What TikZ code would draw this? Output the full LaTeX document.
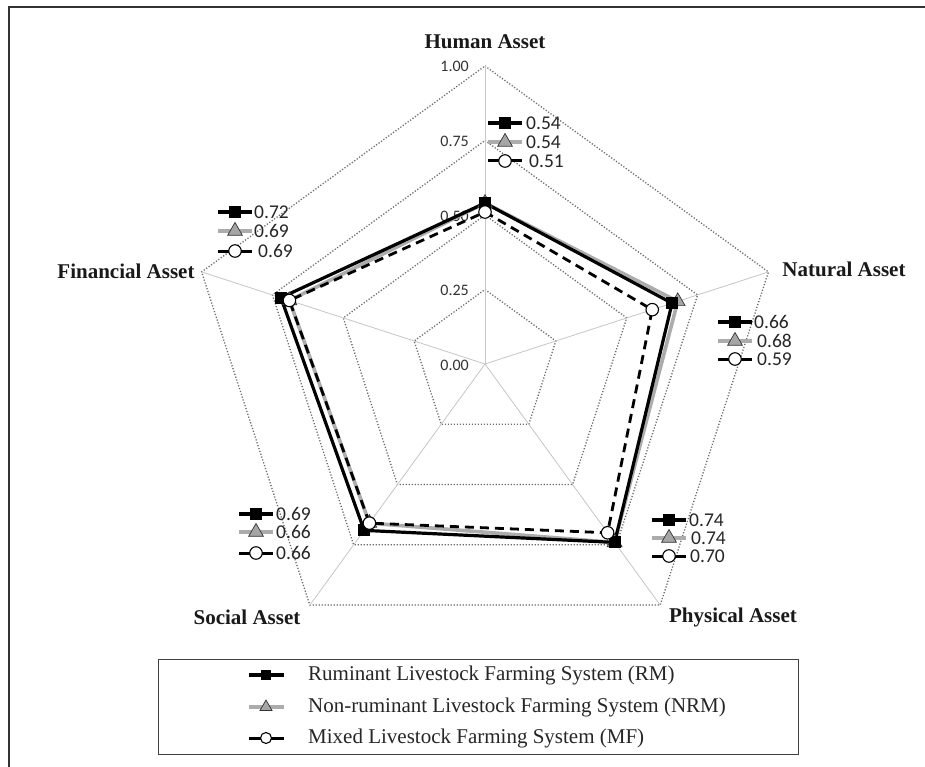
\documentclass[tikz,border=0pt]{standalone}
\usepackage{fontspec}
\setmainfont{Liberation Serif}
\newfontfamily\numfont{Carlito}
\usetikzlibrary{shapes.geometric}
\tikzset{
  ring/.style={draw=black!58, line width=1.3pt, dash pattern=on 1.2pt off 1.8pt},
  spoke/.style={draw=gray!45, line width=0.8pt},
  rmline/.style={draw=black, line width=3.2pt},
  nrmline/.style={draw=gray!65, line width=3.6pt},
  mfline/.style={draw=black, line width=2.8pt, dash pattern=on 9pt off 6pt},
  mfrowline/.style={draw=black, line width=3pt},
  rmmark/.style={rectangle, fill=black, minimum size=12pt, inner sep=0pt},
  nrmmark/.style={regular polygon, regular polygon sides=3, fill=gray!70, draw=gray!40!black, line width=0.7pt, minimum size=17pt, inner sep=0pt},
  mfmark/.style={circle, fill=white, draw=black, line width=1.1pt, minimum size=12.5pt, inner sep=0pt},
  mfrowmark/.style={mfmark},
  axtitle/.style={font=\fontsize{21}{23}\selectfont\bfseries, text=black!90, inner sep=0pt},
  ticklab/.style={font=\numfont\fontsize{16}{18}\selectfont, text=black!80, anchor=east, inner sep=0pt},
  vallab/.style={font=\numfont\fontsize{19.5}{21}\selectfont, text=black!85, anchor=west, inner sep=0pt},
  legtext/.style={font=\fontsize{21}{23}\selectfont, text=black!85, anchor=west, inner sep=0pt},
}
\newcommand\lrow[6]{%
  \coordinate (#1a) at (#2-17,#3);
  \coordinate (#1b) at (#2+17,#3);
  \draw[#4line] (#1a) -- (#1b);
  \node[#4mark] (#1m) at (#2,#3) {};
  \node[vallab] (#1t) at (#6,#3) {#5};
}
\begin{document}
\begin{tikzpicture}[x=1pt,y=-1pt]
\useasboundingbox (0,0) rectangle (925,767);
\fill[white] (0,0) rectangle (925,767);
% frame
\draw[line width=2pt, black!80] (9,767) -- (9,7) -- (925,7);

\begin{scope}[shift={(485,364)}]
  \coordinate (O) at (0,0);
  \foreach \r in {0.25,0.5,0.75,1} {
    \draw[ring] (90:\r*298pt) -- (18:\r*298pt) -- (-54:\r*298pt) -- (-126:\r*298pt) -- (162:\r*298pt) -- cycle;
  }
  \coordinate (vH) at (90:298pt);
  \coordinate (vN) at (18:298pt);
  \coordinate (vP) at (-54:298pt);
  \coordinate (vS) at (-126:298pt);
  \coordinate (vF) at (162:298pt);
  \foreach \v in {vH,vN,vP,vS,vF} { \draw[spoke] (O) -- (\v); }
  \coordinate (nH) at (90:0.54*298pt);
  \coordinate (nN) at (18:0.68*298pt);
  \coordinate (nP) at (-54:0.74*298pt);
  \coordinate (nS) at (-126:0.66*298pt);
  \coordinate (nF) at (162:0.69*298pt);
  \coordinate (rH) at (90:0.54*298pt);
  \coordinate (rN) at (18:0.66*298pt);
  \coordinate (rP) at (-54:0.74*298pt);
  \coordinate (rS) at (-126:0.69*298pt);
  \coordinate (rF) at (162:0.72*298pt);
  \coordinate (mH) at (90:0.51*298pt);
  \coordinate (mN) at (18:0.59*298pt);
  \coordinate (mP) at (-54:0.70*298pt);
  \coordinate (mS) at (-126:0.66*298pt);
  \coordinate (mF) at (162:0.69*298pt);
\end{scope}

\node[ticklab] (t100) at (469,66) {1.00};
\node[ticklab] (t075) at (469,141) {0.75};
\node[ticklab] (t050) at (469,216) {0.50};
\node[ticklab] (t025) at (469,290) {0.25};
\node[ticklab] (t000) at (469,365) {0.00};

\draw[nrmline, line join=miter] (nH) -- (nN) -- (nP) -- (nS) -- (nF) -- cycle;
\draw[rmline, line join=miter] (rH) -- (rN) -- (rP) -- (rS) -- (rF) -- cycle;
\draw[mfline, line join=miter] (mH) -- (mN) -- (mP) -- (mS) -- (mF) -- cycle;
\foreach \p in {H,N,P,S,F} { \node[nrmmark] (nm\p) at (n\p) {}; }
\foreach \p in {H,N,P,S,F} { \node[rmmark] (rm\p) at (r\p) {}; }
\foreach \p in {H,N,P,S,F} { \node[mfmark] (mm\p) at (m\p) {}; }

\node[axtitle] (aH) at (485,42) {Human Asset};
\node[axtitle] (aN) at (844,269) {Natural Asset};
\node[axtitle] (aP) at (733,617) {Physical Asset};
\node[axtitle] (aS) at (247,617) {Social Asset};
\node[axtitle] (aF) at (126,271) {Financial Asset};

\lrow{h1}{505}{123}{rm}{0.54}{526}
\lrow{h2}{505}{142}{nrm}{0.54}{526}
\lrow{h3}{505}{161}{mfrow}{0.51}{529}
\lrow{f1}{235}{212}{rm}{0.72}{254}
\lrow{f2}{235}{231}{nrm}{0.69}{254}
\lrow{f3}{235}{251}{mfrow}{0.69}{258}
\lrow{n1}{735}{322}{rm}{0.66}{754}
\lrow{n2}{735}{341}{nrm}{0.68}{757}
\lrow{n3}{735}{359}{mfrow}{0.59}{757}
\lrow{p1}{669}{520}{rm}{0.74}{689}
\lrow{p2}{669}{538}{nrm}{0.74}{691}
\lrow{p3}{669}{556}{mfrow}{0.70}{690}
\lrow{s1}{256}{514}{rm}{0.69}{276}
\lrow{s2}{256}{532}{nrm}{0.66}{276}
\lrow{s3}{256}{553}{mfrow}{0.66}{276}

\node[draw=black!75, line width=1pt, minimum width=640pt, minimum height=95pt, inner sep=0pt] (leg) at (478,706.5) {};
\coordinate (l1a) at (249,675); \coordinate (l1b) at (284,675);
\coordinate (l2a) at (249,707); \coordinate (l2b) at (284,707);
\coordinate (l3a) at (249,738); \coordinate (l3b) at (284,738);
\draw[rmline] (l1a) -- (l1b);
\draw[nrmline] (l2a) -- (l2b);
\draw[mfrowline] (l3a) -- (l3b);
\node[rmmark, minimum size=10pt] (lm1) at (266,675) {};
\node[nrmmark, minimum size=14pt] (lm2) at (266,707) {};
\node[mfmark, minimum size=11pt] (lm3) at (266,738) {};
\node[legtext] (lt1) at (308,675) {Ruminant Livestock Farming System (RM)};
\node[legtext] (lt2) at (308,707) {Non-ruminant Livestock Farming System (NRM)};
\node[legtext] (lt3) at (308,738) {Mixed Livestock Farming System (MF)};
\end{tikzpicture}
\end{document}
